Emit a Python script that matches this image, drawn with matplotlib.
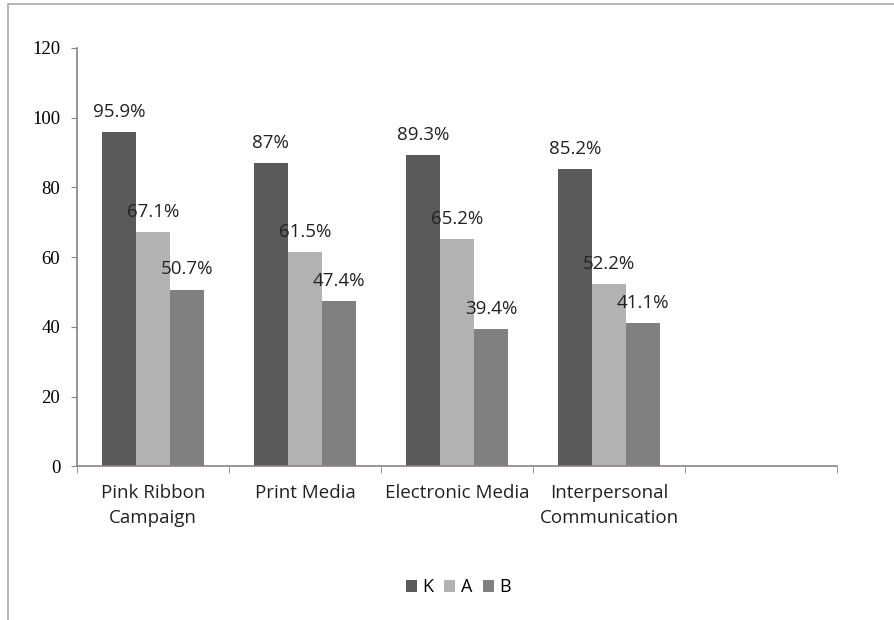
import numpy as np
import matplotlib.pyplot as plt
from matplotlib.patches import Rectangle

categories = ["Pink Ribbon\nCampaign", "Print Media", "Electronic Media",
              "Interpersonal\nCommunication", ""]
k_values = [95.9, 87, 89.3, 85.2]
a_values = [67.1, 61.5, 65.2, 52.2]
b_values = [50.7, 47.4, 39.4, 41.1]
k_labels = ["95.9%", "87%", "89.3%", "85.2%"]
a_labels = ["67.1%", "61.5%", "65.2%", "52.2%"]
b_labels = ["50.7%", "47.4%", "39.4%", "41.1%"]
series_names = ["K", "A", "B"]
y_ticks = [0, 20, 40, 60, 80, 100, 120]

SANS = "Open Sans"
SERIF = "Liberation Serif"
colors = ["#5b5a5a", "#b2b2b2", "#818080"]
spine_color = "#8c8383"

fig = plt.figure(figsize=(8.94, 6.2), dpi=100)
ax = fig.add_axes([0.0861, 0.248, 0.8501, 0.6746])

# outer frame like the original chart area border
fig.patches.append(Rectangle((8 / 894, -0.05), 1.2, (620 - 4) / 620 + 0.05,
                             transform=fig.transFigure, fill=False,
                             edgecolor="#a9a9a9", linewidth=1.2))

x = np.arange(len(k_values))
width = 0.224
all_vals = [k_values, a_values, b_values]
all_labels = [k_labels, a_labels, b_labels]
for i, (vals, labs) in enumerate(zip(all_vals, all_labels)):
    pos = x + (i - 1) * width
    ax.bar(pos, vals, width, color=colors[i], label=series_names[i])
    for px, v, lab in zip(pos, vals, labs):
        ax.annotate(lab, (px, v), xytext=(0, 14.5), textcoords="offset points",
                    ha="center", va="center", fontsize=13.5, family=SANS,
                    color="#222222")

ax.set_xlim(-0.5, len(categories) - 0.5)
ax.set_ylim(0, 120)
ax.set_yticks(y_ticks)
ax.set_yticklabels([str(t) for t in y_ticks], family=SERIF, fontsize=13.5)
ax.set_xticks(np.arange(len(categories)))
ax.set_xticklabels(categories, family=SANS, fontsize=13.5, color="#222222",
                   linespacing=1.45)
ax.set_xticks(np.arange(len(categories) + 1) - 0.5, minor=True)
ax.tick_params(axis="x", which="major", length=0, pad=13)
ax.tick_params(axis="x", which="minor", length=5, color=spine_color, direction="out")
ax.tick_params(axis="y", length=4, color=spine_color, pad=8)

for s in ["top", "right"]:
    ax.spines[s].set_visible(False)
for s in ["left", "bottom"]:
    ax.spines[s].set_color(spine_color)
    ax.spines[s].set_linewidth(1.2)

fig.legend(loc="center", bbox_to_anchor=(0.513, 0.053), ncol=3, frameon=False,
           handlelength=0.6, handleheight=0.6, handletextpad=0.3,
           columnspacing=0.6, prop={"family": SANS, "size": 13})

fig.savefig("out.png", dpi=100)
